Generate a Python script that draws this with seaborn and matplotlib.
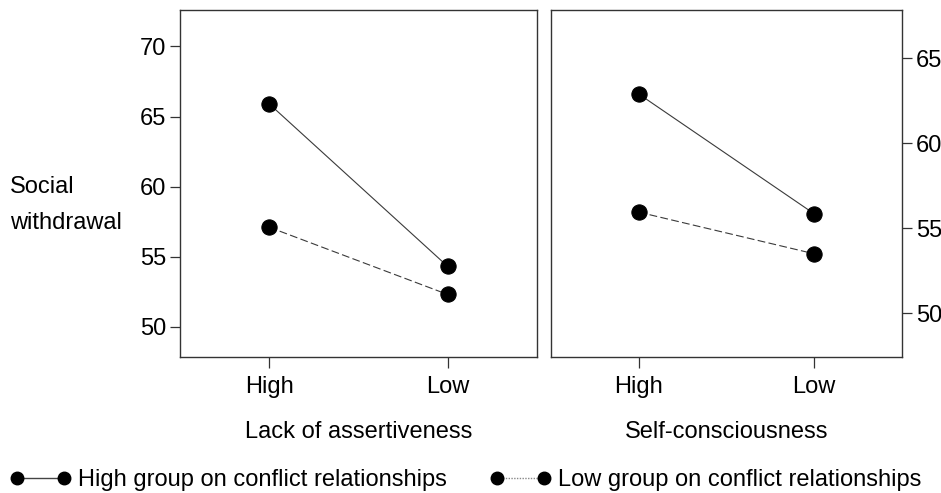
import pandas as pd
import seaborn as sns
import matplotlib.pyplot as plt
from matplotlib.lines import Line2D

# values
levels = ['High', 'Low']
assert_high_conflict = [65.9, 54.3]
assert_low_conflict = [57.1, 52.3]
selfc_high_conflict = [62.9, 55.85]
selfc_low_conflict = [55.95, 53.5]
group_labels = ['High group on conflict relationships', 'Low group on conflict relationships']

sns.set_style('ticks')
plt.rcParams['font.family'] = ['Liberation Sans', 'DejaVu Sans']
plt.rcParams['font.size'] = 17
plt.rcParams['text.color'] = 'black'
plt.rcParams['axes.labelcolor'] = 'black'
plt.rcParams['xtick.color'] = '#333333'
plt.rcParams['ytick.color'] = '#333333'
plt.rcParams['xtick.labelcolor'] = 'black'
plt.rcParams['ytick.labelcolor'] = 'black'

fig = plt.figure(figsize=(9.41, 4.93), dpi=100)
ax1 = fig.add_axes([180 / 941, 136 / 493, 357 / 941, 347 / 493])
ax2 = fig.add_axes([551 / 941, 136 / 493, 351 / 941, 347 / 493])

line_kw = dict(marker='o', markersize=11, color='#3a3a3a', markerfacecolor='black',
               markeredgecolor='black', linewidth=0.8)

panels = [
    (ax1, assert_high_conflict, assert_low_conflict, 'Lack of assertiveness', (47.84, 72.6), [50, 55, 60, 65, 70]),
    (ax2, selfc_high_conflict, selfc_low_conflict, 'Self-consciousness', (47.43, 67.84), [50, 55, 60, 65]),
]

for ax, hi, lo, xlabel, ylim, yticks in panels:
    df = pd.DataFrame({'level': levels * 2, 'value': hi + lo,
                       'group': ['high'] * 2 + ['low'] * 2})
    sns.lineplot(data=df[df.group == 'high'], x='level', y='value', ax=ax,
                 linestyle='-', **line_kw)
    sns.lineplot(data=df[df.group == 'low'], x='level', y='value', ax=ax,
                 linestyle=(0, (7, 3)), **line_kw)
    ax.set_xlim(-0.5, 1.5)
    ax.set_ylim(*ylim)
    ax.set_yticks(yticks)
    ax.set_xlabel(xlabel, fontsize=17, labelpad=16)
    ax.set_ylabel('')
    for sp in ax.spines.values():
        sp.set_visible(True)
        sp.set_color('#333333')
        sp.set_linewidth(1.0)
    ax.tick_params(axis='both', length=7, width=0.9, labelsize=17, pad=3)
    ax.tick_params(axis='x', length=8, pad=6)

ax2.yaxis.tick_right()

fig.text(10 / 941, 1 - 205 / 493, 'Social\nwithdrawal', ha='left', va='center',
         fontsize=17, linespacing=1.85)

handles = [
    Line2D([], [], color='#444444', linewidth=1.0, linestyle='-', marker='o',
           markersize=9, markerfacecolor='black', markeredgecolor='black'),
    Line2D([], [], color='#888888', linewidth=1.0, linestyle=(0, (1, 1)), marker='o',
           markersize=9, markerfacecolor='black', markeredgecolor='black'),
]
fig.legend(handles, group_labels, loc='center left', bbox_to_anchor=(10 / 941, 13 / 493),
           ncol=2, frameon=False, numpoints=2, handlelength=2.6, handletextpad=0.3,
           columnspacing=1.8, borderpad=0, borderaxespad=0, fontsize=17)

fig.savefig('out.png', dpi=100)
